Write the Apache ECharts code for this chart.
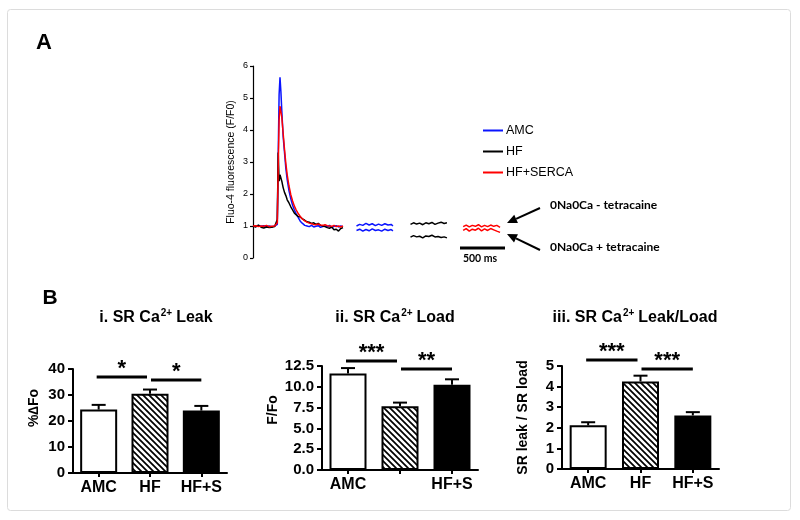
<!DOCTYPE html>
<html><head><meta charset="utf-8">
<script src="https://cdn.jsdelivr.net/npm/echarts@6/dist/echarts.min.js"></script>
<style>html,body{margin:0;padding:0;background:#fff}#c{width:800px;height:520px}</style>
</head><body><div id="c"></div>
<script>
// ---------- Panel A: Fluo-4 traces (time in ms, F/F0) ----------
const mainTime = [0,30,60,90,120,150,180,210,240,260,270,280,290,300,310,320,335,350,365,380,400,420,440,460,480,500,525,550,575,600,625,650,675,700,725,750,775,800,825,850,875,900,925,950,975,1000];
const amcMain  = [1.00,0.98,1.02,0.99,1.01,0.97,1.00,0.98,1.00,0.99,1.05,3.20,5.10,5.65,5.20,4.60,3.80,3.30,2.80,2.45,2.10,1.85,1.65,1.50,1.38,1.28,1.15,1.08,1.02,1.00,0.98,1.02,0.97,0.99,1.01,0.96,0.98,1.00,0.97,1.02,0.95,0.99,1.01,0.97,1.00,0.98];
const hfMain   = [1.00,0.97,1.03,0.96,0.94,0.97,0.95,0.96,0.98,1.00,1.20,3.30,2.40,2.60,2.55,2.40,2.20,2.05,1.95,1.82,1.72,1.60,1.50,1.40,1.38,1.30,1.28,1.22,1.18,1.13,1.12,1.08,1.10,1.05,1.08,1.02,1.00,0.98,0.95,0.93,0.97,0.88,0.90,0.84,0.92,0.95];
const serMain  = [1.00,1.01,0.98,1.00,0.99,1.02,0.98,0.99,1.00,1.01,1.10,2.80,4.30,4.75,4.70,4.40,3.90,3.40,2.95,2.60,2.25,1.98,1.78,1.62,1.50,1.40,1.30,1.22,1.16,1.12,1.09,1.07,1.05,1.04,1.06,1.03,1.02,1.04,1.01,1.00,0.99,1.02,0.98,1.00,0.97,1.00];

const amcSegTime  = [1150,1185,1220,1255,1290,1325,1360,1395,1430,1465,1500,1535,1555];
const amcSegUpper = [1.00,1.05,1.02,1.08,1.03,1.07,1.01,1.06,1.02,1.07,1.03,1.05,1.00];
const amcSegLower = [0.86,0.90,0.84,0.89,0.85,0.91,0.86,0.88,0.84,0.90,0.86,0.89,0.85];
const hfSegTime   = [1750,1784,1818,1852,1886,1920,1954,1988,2022,2056,2090,2124,2155];
const hfSegUpper  = [1.05,1.10,1.06,1.09,1.04,1.10,1.07,1.11,1.05,1.09,1.12,1.08,1.10];
const hfSegLower  = [0.65,0.70,0.66,0.68,0.63,0.69,0.67,0.71,0.66,0.67,0.64,0.66,0.63];
const serSegTime  = [2335,2369,2403,2437,2471,2505,2539,2573,2607,2641,2675,2709,2745];
const serSegUpper = [0.98,1.03,0.97,1.02,0.99,1.04,0.97,1.02,0.98,1.03,0.99,1.02,0.96];
const serSegLower = [0.86,0.92,0.84,0.90,0.87,0.93,0.85,0.91,0.86,0.92,0.88,0.84,0.80];

const scaleBarTime = [2300, 2800];
const scaleBarLevel = 0.31;
const traceNames = ['AMC', 'HF', 'HF+SERCA'];

// ---------- Panel B: bar data ----------
const groups = ['AMC', 'HF', 'HF+S'];
const loadTickLabels = ['AMC', '', 'HF+S'];
const leakMean  = [24.4, 30.5, 24.0];
const leakSem   = [1.8, 1.6, 1.8];
const loadMean  = [11.6, 7.65, 10.25];
const loadSem   = [0.65, 0.45, 0.65];
const ratioMean = [2.12, 4.25, 2.6];
const ratioSem  = [0.15, 0.28, 0.16];
const leakSig  = [[0, 1, 36.9, '*'],   [1, 2, 35.8, '*']];
const loadSig  = [[0, 1, 13.1, '***'], [1, 2, 12.14, '**']];
const ratioSig = [[0, 1, 5.29, '***'], [1, 2, 4.85, '***']];

const FONT = '"Liberation Sans", Arial, sans-serif';
const zip = (t, v) => t.map((x, i) => [x, v[i]]);

function hatch() {
  const s = 6, c = document.createElement('canvas');
  c.width = s; c.height = s;
  const x = c.getContext('2d');
  x.fillStyle = '#fff'; x.fillRect(0, 0, s, s);
  x.strokeStyle = '#000'; x.lineWidth = 1.7;
  x.beginPath();
  x.moveTo(-1, -1); x.lineTo(s + 1, s + 1);
  x.moveTo(-1, s - 1); x.lineTo(1, s + 1);
  x.moveTo(s - 1, -1); x.lineTo(s + 1, 1);
  x.stroke();
  return c;
}
const hatchPattern = { image: hatch(), repeat: 'repeat' };
const barFills = ['#ffffff', hatchPattern, '#000000'];

const chart = echarts.init(document.getElementById('c'), null, { renderer: 'canvas' });

function traceSeries(name, color, t, v) {
  return { type: 'line', name, data: zip(t, v), xAxisIndex: 0, yAxisIndex: 0, symbol: 'none',
    lineStyle: { color, width: 1.5 }, itemStyle: { color }, silent: true, z: 3 };
}

function barSeries(k, mean) {
  return { type: 'bar', xAxisIndex: k, yAxisIndex: k, barWidth: 37,
    data: mean.map((m, i) => ({ value: m, itemStyle: { color: barFills[i] } })),
    itemStyle: { borderColor: '#000', borderWidth: 2 }, silent: true, z: 2 };
}
function errSeries(k, mean, sem) {
  return { type: 'custom', xAxisIndex: k, yAxisIndex: k, silent: true, z: 4,
    data: mean.map((m, i) => [i, m, sem[i]]), encode: { x: 0, y: 1 },
    renderItem: (p, api) => {
      const i = api.value(0), m = api.value(1), s = api.value(2);
      const a = api.coord([i, m]), b = api.coord([i, m + s]);
      const st = { stroke: '#000', lineWidth: 2 };
      return { type: 'group', children: [
        { type: 'line', shape: { x1: a[0], y1: a[1], x2: b[0], y2: b[1] }, style: st },
        { type: 'line', shape: { x1: b[0] - 7, y1: b[1], x2: b[0] + 7, y2: b[1] }, style: st }
      ] };
    } };
}
function sigSeries(k, sig) {
  return { type: 'custom', xAxisIndex: k, yAxisIndex: k, silent: true, z: 5, clip: false,
    data: sig.map(d => [d[0], d[2]]), encode: { x: 0, y: 1 },
    renderItem: (p, api) => {
      const d = sig[p.dataIndex];
      const a = api.coord([d[0], d[2]]), b = api.coord([d[1], d[2]]);
      const x1 = a[0] + (p.dataIndex === 0 ? -2 : 1), x2 = b[0] + (p.dataIndex === 0 ? -3 : 0);
      return { type: 'group', children: [
        { type: 'line', shape: { x1, y1: a[1], x2, y2: b[1] }, style: { stroke: '#000', lineWidth: 3 } },
        { type: 'text', x: (x1 + x2) / 2, y: a[1] - 8,
          style: { text: d[3], fontSize: 22, fontWeight: 'bold', fontFamily: FONT, fill: '#000', align: 'center', verticalAlign: 'middle' } }
      ] };
    } };
}

const gridsB = [
  { left: 73, top: 369, width: 154, height: 104 },
  { left: 322, top: 366, width: 156, height: 104 },
  { left: 562, top: 366, width: 157, height: 103 }
];
const yCfgB = [
  { max: 40, interval: 10, name: '%\u2206Fo', gap: 32, pad: [0, 0, 0, 26], fmt: v => String(v) },
  { max: 12.5, interval: 2.5, name: 'F/Fo', gap: 42, pad: [0, 0, 0, 16], fmt: v => v.toFixed(1) },
  { max: 5, interval: 1, name: 'SR leak / SR load', gap: 32, pad: [0, 0, 0, 0], fmt: v => String(v) }
];
const xLabelsB = [groups, loadTickLabels, groups];

const axisLineB = { show: true, lineStyle: { color: '#000', width: 2 } };

const titleRich = {
  t: { fontSize: 16, fontFamily: FONT, color: '#000', lineHeight: 20 },
  s: { fontSize: 10, fontFamily: FONT, color: '#000', verticalAlign: 'top', lineHeight: 20, padding: [0, 4, 0, 1] }
};

function arrow(x1, y1, x2, y2) {
  const dx = x2 - x1, dy = y2 - y1, L = Math.hypot(dx, dy), ux = dx / L, uy = dy / L;
  const hl = 10, hw = 4.5, bx = x2 - ux * hl, by = y2 - uy * hl;
  return [
    { type: 'line', shape: { x1, y1, x2: bx, y2: by }, style: { stroke: '#000', lineWidth: 2 } },
    { type: 'polygon', shape: { points: [[x2, y2], [bx - uy * hw, by + ux * hw], [bx + uy * hw, by - ux * hw]] }, style: { fill: '#000' } }
  ];
}

const option = {
  animation: false,
  backgroundColor: '#fff',
  title: [
    { text: '{t|i. SR Ca}{s|2+}{t|Leak}', left: 151, top: 303, textAlign: 'center', textStyle: { rich: titleRich } },
    { text: '{t|ii. SR Ca}{s|2+}{t|Load}', left: 390, top: 303, textAlign: 'center', textStyle: { rich: titleRich } },
    { text: '{t|iii. SR Ca}{s|2+}{t|Leak/Load}', left: 630, top: 303, textAlign: 'center', textStyle: { rich: titleRich } }
  ],
  legend: {
    orient: 'vertical', left: 478, top: 115, itemWidth: 20, itemHeight: 2, itemGap: 0,
    icon: 'rect', data: traceNames, selectedMode: false,
    textStyle: { fontSize: 12.5, fontFamily: FONT, color: '#000', lineHeight: 21, padding: [0, 0, 0, -2] }
  },
  grid: [
    { left: 253, top: 66, width: 270, height: 192, outerBoundsMode: 'none', containLabel: false },
    ...gridsB.map(g => Object.assign({ outerBoundsMode: 'none', containLabel: false }, g))
  ],
  xAxis: [
    { gridIndex: 0, type: 'value', min: 0, max: 3000, show: false },
    ...xLabelsB.map((labs, k) => ({
      gridIndex: k + 1, type: 'category', data: labs,
      axisLine: axisLineB,
      axisTick: { show: true, alignWithLabel: true, length: 4, lineStyle: { color: '#000', width: 2 } },
      axisLabel: { color: '#000', fontSize: 16, fontWeight: 'bold', fontFamily: FONT, margin: 7, interval: 0 },
      splitLine: { show: false }
    }))
  ],
  yAxis: [
    { gridIndex: 0, type: 'value', min: 0, max: 6, interval: 1,
      name: 'Fluo-4 fluorescence (F/F0)', nameLocation: 'middle', nameGap: 16,
      nameTextStyle: { fontSize: 10.5, fontFamily: FONT, color: '#000' },
      axisLine: { show: true, lineStyle: { color: '#000', width: 1.2 } },
      axisTick: { show: true, length: 3, lineStyle: { color: '#000', width: 1.2 } },
      axisLabel: { color: '#000', fontSize: 9, fontFamily: FONT, margin: 5 },
      splitLine: { show: false } },
    ...yCfgB.map((c, k) => ({
      gridIndex: k + 1, type: 'value', min: 0, max: c.max, interval: c.interval,
      name: c.name, nameLocation: 'middle', nameGap: c.gap,
      nameTextStyle: { fontSize: 14, fontWeight: 'bold', fontFamily: FONT, color: '#000', padding: c.pad },
      axisLine: axisLineB,
      axisTick: { show: true, length: 5, lineStyle: { color: '#000', width: 2 } },
      axisLabel: { color: '#000', fontSize: 15, fontWeight: 'bold', fontFamily: FONT, margin: 8, formatter: c.fmt },
      splitLine: { show: false }
    }))
  ],
  series: [
    traceSeries('AMC', '#0a14ff', mainTime, amcMain),
    traceSeries('HF', '#000000', mainTime, hfMain),
    traceSeries('HF+SERCA', '#ff0000', mainTime, serMain),
    traceSeries('AMC', '#0a14ff', amcSegTime, amcSegUpper),
    traceSeries('AMC', '#0a14ff', amcSegTime, amcSegLower),
    traceSeries('HF', '#000000', hfSegTime, hfSegUpper),
    traceSeries('HF', '#000000', hfSegTime, hfSegLower),
    traceSeries('HF+SERCA', '#ff0000', serSegTime, serSegUpper),
    traceSeries('HF+SERCA', '#ff0000', serSegTime, serSegLower),
    { type: 'line', name: 'scale', data: scaleBarTime.map(t => [t, scaleBarLevel]), symbol: 'none',
      lineStyle: { color: '#000', width: 3 }, silent: true },
    barSeries(1, leakMean), errSeries(1, leakMean, leakSem), sigSeries(1, leakSig),
    barSeries(2, loadMean), errSeries(2, loadMean, loadSem), sigSeries(2, loadSig),
    barSeries(3, ratioMean), errSeries(3, ratioMean, ratioSem), sigSeries(3, ratioSig)
  ],
  graphic: [
    { type: 'rect', shape: { x: 7.5, y: 9.5, width: 783, height: 501, r: 3 }, style: { fill: 'none', stroke: '#dcdcdc', lineWidth: 1 }, silent: true },
    { type: 'text', x: 44, y: 43, style: { text: 'A', fontSize: 22, fontWeight: 'bold', fontFamily: FONT, fill: '#000', align: 'center', verticalAlign: 'middle' } },
    { type: 'text', x: 50, y: 298, style: { text: 'B', fontSize: 21, fontWeight: 'bold', fontFamily: FONT, fill: '#000', align: 'center', verticalAlign: 'middle' } },
    { type: 'text', x: 480, y: 259, style: { text: '500 ms', fontSize: 10.5, fontWeight: 'bold', fontFamily: 'Lato, sans-serif', fill: '#000', align: 'center', verticalAlign: 'middle' } },
    { type: 'text', x: 550, y: 205, style: { text: '0Na0Ca - tetracaine', fontSize: 12, fontWeight: 'bold', fontFamily: 'Lato, sans-serif', fill: '#000', align: 'left', verticalAlign: 'middle' } },
    { type: 'text', x: 550, y: 247, style: { text: '0Na0Ca + tetracaine', fontSize: 12, fontWeight: 'bold', fontFamily: 'Lato, sans-serif', fill: '#000', align: 'left', verticalAlign: 'middle' } },
    ...arrow(540, 208, 507, 223),
    ...arrow(540, 250, 507, 234)
  ]
};
chart.setOption(option);
</script>
</body></html>
